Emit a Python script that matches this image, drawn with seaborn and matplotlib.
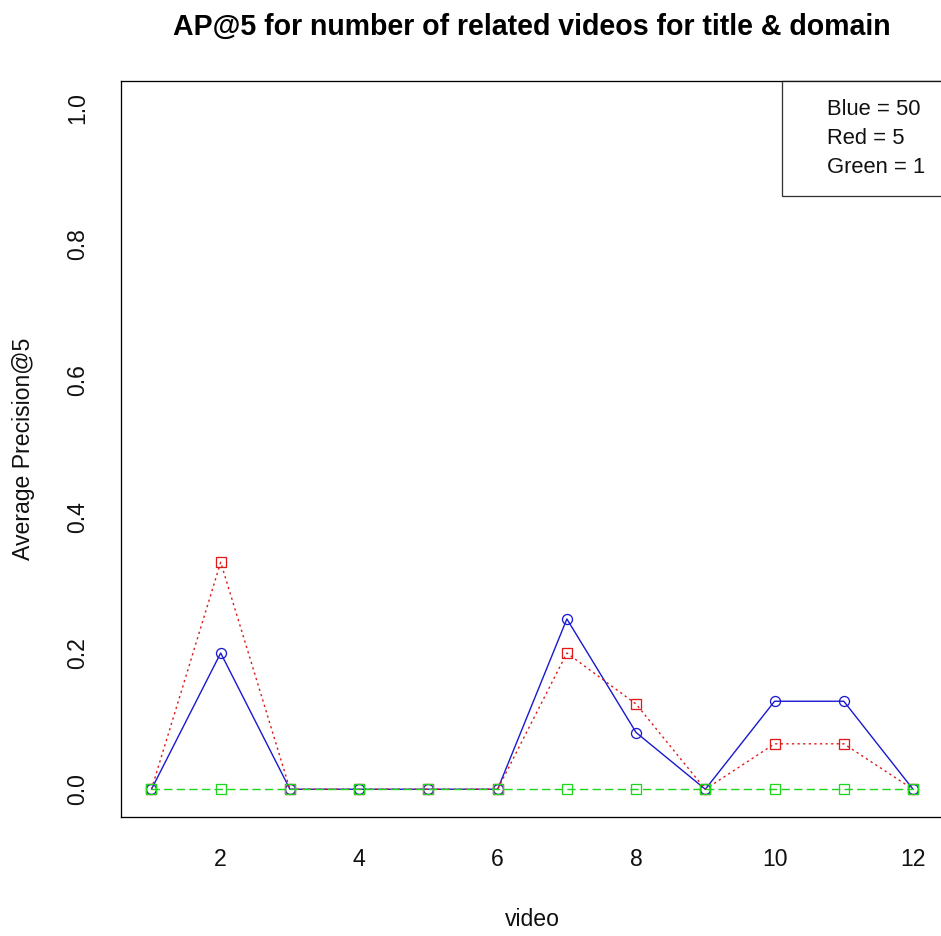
import matplotlib
matplotlib.use("Agg")
import matplotlib.pyplot as plt
from matplotlib.lines import Line2D
import numpy as np
import pandas as pd
import seaborn as sns

# Average precision@5 per video, for three sizes of the related-video pool
videos = [1, 2, 3, 4, 5, 6, 7, 8, 9, 10, 11, 12]
ap_blue_50 = [0, 0.2, 0, 0, 0, 0, 0.25, 0.0833, 0, 0.1292, 0.1292, 0]
ap_red_5 = [0, 0.3333, 0, 0, 0, 0, 0.2, 0.125, 0, 0.0667, 0.0667, 0]
ap_green_1 = [0, 0, 0, 0, 0, 0, 0, 0, 0, 0, 0, 0]

legend_labels = ["Blue = 50", "Red = 5", "Green = 1"]
x_ticks = [2, 4, 6, 8, 10, 12]
y_ticks = [0.0, 0.2, 0.4, 0.6, 0.8, 1.0]

df = pd.DataFrame({
    "video": videos * 3,
    "ap": ap_blue_50 + ap_red_5 + ap_green_1,
    "pool": ["50"] * 12 + ["5"] * 12 + ["1"] * 12,
})

sns.set_style("white")
plt.rcParams["font.family"] = ["Liberation Sans", "DejaVu Sans"]
plt.rcParams["text.color"] = "black"

DPI = 72
fig = plt.figure(figsize=(941 / DPI, 936 / DPI), dpi=DPI)
ax = fig.add_axes([121 / 941, (936 - 816.5) / 936, 822.5 / 941, 735.7 / 936])

styles = {
    "50": dict(color="#1a1ad0", marker="o", linestyle="-"),
    "5": dict(color="#e01a1a", marker="s", linestyle=(0, (1.6, 2.4))),
    "1": dict(color="#1fd61f", marker="s", linestyle=(0, (6, 3))),
}
for pool in ["50", "5", "1"]:
    st = styles[pool]
    sns.lineplot(
        data=df[df["pool"] == pool], x="video", y="ap", ax=ax,
        color=st["color"], marker=st["marker"], linestyle=st["linestyle"],
        markersize=10, markerfacecolor="none", markeredgecolor=st["color"],
        markeredgewidth=1.3, linewidth=1.4, errorbar=None,
    )

ax.set_xlim(0.56, 12.44)
ax.set_ylim(-0.04, 1.04)
ax.set_xticks(x_ticks)
ax.set_xticklabels([str(t) for t in x_ticks])
ax.set_yticks(y_ticks)
ax.set_yticklabels([f"{t:.1f}" for t in y_ticks])

for side in ["left", "bottom", "top", "right"]:
    ax.spines[side].set_visible(True)
    ax.spines[side].set_color("black")
    ax.spines[side].set_linewidth(1.3)

ax.tick_params(axis="both", which="both", direction="out", length=14, width=1.2,
               color="black", labelsize=23, pad=18, labelcolor="#111111")
ax.tick_params(axis="y", labelrotation=90)
for lab in ax.get_yticklabels():
    lab.set_verticalalignment("center")

ax.set_xlabel("video", fontsize=23, labelpad=37, color="#111111")
ax.set_ylabel("Average Precision@5", fontsize=23, labelpad=31, color="#111111")
ax.set_title("AP@5 for number of related videos for title & domain",
             fontsize=28.5, fontweight="bold", pad=46, color="black")

handles = [Line2D([], [], linestyle="none") for _ in legend_labels]
leg = ax.legend(handles, legend_labels, loc="upper right", bbox_to_anchor=(1, 1),
                borderaxespad=0, frameon=True, fancybox=False, fontsize=22,
                handlelength=0.8, handletextpad=0.4, borderpad=0.84,
                labelspacing=0.35)
leg.get_frame().set_edgecolor("black")
leg.get_frame().set_linewidth(1.3)
for t in leg.get_texts():
    t.set_color("#111111")

fig.savefig("out.png", dpi=DPI, facecolor="white")
